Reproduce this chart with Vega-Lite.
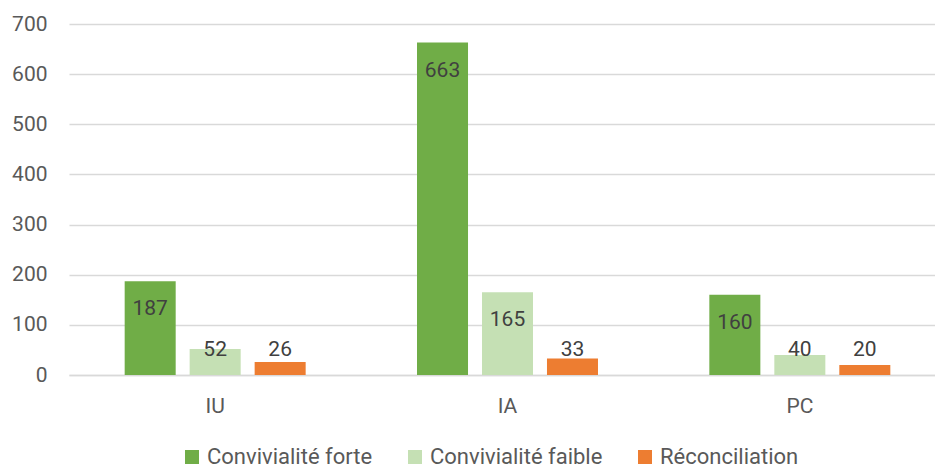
{
  "$schema": "https://vega.github.io/schema/vega-lite/v6.json",
  "width": 866,
  "height": 351,
  "autosize": {"type": "none"},
  "padding": {"left": 69, "top": 24, "right": 0, "bottom": 94},
  "background": "white",
  "config": {
    "view": {"stroke": null},
    "font": "Roboto",
    "axis": {"labelFont": "Roboto", "labelFontSize": 21, "labelColor": "#595959"}
  },
  "data": {
    "values": [
      {"cat": "IU", "series": "Convivialité forte", "value": 187},
      {"cat": "IU", "series": "Convivialité faible", "value": 52},
      {"cat": "IU", "series": "Réconciliation", "value": 26},
      {"cat": "IA", "series": "Convivialité forte", "value": 663},
      {"cat": "IA", "series": "Convivialité faible", "value": 165},
      {"cat": "IA", "series": "Réconciliation", "value": 33},
      {"cat": "PC", "series": "Convivialité forte", "value": 160},
      {"cat": "PC", "series": "Convivialité faible", "value": 40},
      {"cat": "PC", "series": "Réconciliation", "value": 20}
    ]
  },
  "encoding": {
    "x": {
      "field": "cat", "type": "nominal", "sort": ["IU", "IA", "PC"],
      "scale": {"range": [0, 877], "paddingInner": 0.333, "paddingOuter": 0.1665},
      "axis": {"title": null, "labelAngle": 0, "ticks": false, "domainColor": "#D9D9D9", "domainWidth": 1.5, "labelPadding": 20, "grid": false}
    },
    "xOffset": {
      "field": "series", "type": "nominal",
      "sort": ["Convivialité forte", "Convivialité faible", "Réconciliation"],
      "scale": {"paddingInner": 0.215, "paddingOuter": 0.1077}
    }
  },
  "layer": [
    {
      "mark": {"type": "bar"},
      "encoding": {
        "y": {
          "field": "value", "type": "quantitative",
          "scale": {"domain": [0, 700], "nice": false},
          "axis": {"title": null, "values": [0, 100, 200, 300, 400, 500, 600, 700], "domain": false, "ticks": false, "labelPadding": 22, "gridColor": "#D9D9D9", "gridWidth": 1.5}
        },
        "color": {
          "field": "series", "type": "nominal",
          "scale": {"domain": ["Convivialité forte", "Convivialité faible", "Réconciliation"], "range": ["#70AD47", "#C5E0B4", "#ED7D31"]},
          "legend": {
            "title": null, "orient": "none", "direction": "horizontal",
            "legendX": 112, "legendY": 422,
            "symbolType": "square", "symbolSize": 196, "symbolStrokeWidth": 0,
            "labelFont": "Roboto", "labelFontSize": 22, "labelColor": "#595959",
            "labelLimit": 400, "labelOffset": 4, "columnPadding": 31
          }
        }
      }
    },
    {
      "transform": [{"filter": "datum.value >= 100"}],
      "mark": {"type": "text", "baseline": "middle", "dy": 28, "fontSize": 21, "color": "#404040", "font": "Roboto"},
      "encoding": {
        "y": {"field": "value", "type": "quantitative"},
        "text": {"field": "value", "type": "quantitative"}
      }
    },
    {
      "transform": [{"filter": "datum.value < 100"}],
      "mark": {"type": "text", "baseline": "middle", "fontSize": 21, "color": "#404040", "font": "Roboto"},
      "encoding": {
        "y": {"datum": 50},
        "text": {"field": "value", "type": "quantitative"}
      }
    }
  ]
}
